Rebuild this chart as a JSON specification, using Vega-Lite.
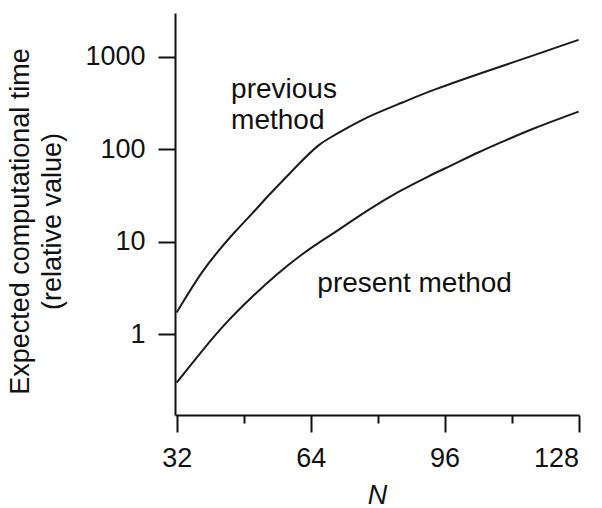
{
  "$schema": "https://vega.github.io/schema/vega-lite/v6.json",
  "width": 404,
  "height": 402,
  "autosize": "none",
  "padding": {"left": 175, "top": 13, "right": 23, "bottom": 93},
  "background": "white",
  "config": {
    "view": {"stroke": null},
    "font": "Liberation Sans",
    "axis": {
      "grid": false,
      "domainColor": "#111",
      "tickColor": "#111",
      "labelColor": "#111",
      "titleColor": "#111",
      "domainWidth": 2,
      "tickWidth": 2,
      "labelFont": "Liberation Sans",
      "titleFont": "Liberation Sans",
      "labelFontSize": 27,
      "titleFontSize": 27,
      "titleFontWeight": "normal"
    }
  },
  "datasets": {
    "curves": [
      {"method": "previous", "N": 32, "time": 1.72},
      {"method": "previous", "N": 38, "time": 4.8},
      {"method": "previous", "N": 42, "time": 8.0},
      {"method": "previous", "N": 46, "time": 13},
      {"method": "previous", "N": 50, "time": 20},
      {"method": "previous", "N": 54, "time": 32},
      {"method": "previous", "N": 58, "time": 49},
      {"method": "previous", "N": 62, "time": 76},
      {"method": "previous", "N": 66, "time": 113},
      {"method": "previous", "N": 68, "time": 128},
      {"method": "previous", "N": 72, "time": 163},
      {"method": "previous", "N": 78, "time": 230},
      {"method": "previous", "N": 86, "time": 320},
      {"method": "previous", "N": 92.5, "time": 426},
      {"method": "previous", "N": 104.5, "time": 662},
      {"method": "previous", "N": 116.4, "time": 1000},
      {"method": "previous", "N": 128, "time": 1520},
      {"method": "present", "N": 32, "time": 0.3},
      {"method": "present", "N": 38, "time": 0.66},
      {"method": "present", "N": 44, "time": 1.38},
      {"method": "present", "N": 50, "time": 2.55},
      {"method": "present", "N": 56, "time": 4.5},
      {"method": "present", "N": 62, "time": 7.4},
      {"method": "present", "N": 66, "time": 9.8},
      {"method": "present", "N": 70, "time": 12.8},
      {"method": "present", "N": 78, "time": 22.5},
      {"method": "present", "N": 85, "time": 35},
      {"method": "present", "N": 92.5, "time": 52},
      {"method": "present", "N": 97.4, "time": 66},
      {"method": "present", "N": 104.5, "time": 95},
      {"method": "present", "N": 109.4, "time": 118},
      {"method": "present", "N": 116.4, "time": 163},
      {"method": "present", "N": 128, "time": 255}
    ],
    "labels": [
      {"text": "previous", "N": 45.0, "time": 355},
      {"text": "method", "N": 45.0, "time": 165},
      {"text": "present method", "N": 65.6, "time": 2.89}
    ]
  },
  "layer": [
    {
      "data": {"name": "curves"},
      "mark": {"type": "line", "interpolate": "basis", "color": "#1a1a1a", "strokeWidth": 2},
      "encoding": {
        "x": {
          "field": "N", "type": "quantitative",
          "scale": {"domain": [31.6, 128.1], "nice": false, "zero": false},
          "axis": {
            "orient": "bottom",
            "values": [32, 64, 96, 128],
            "tickSize": 17,
            "labelPadding": 13,
            "title": "N",
            "titleFontStyle": "italic",
            "titleBaseline": "top",
            "titleY": 67
          }
        },
        "y": {
          "field": "time", "type": "quantitative",
          "scale": {"type": "log", "domain": [0.134, 2966], "nice": false},
          "axis": {
            "orient": "left",
            "values": [1, 10, 100, 1000],
            "format": "d",
            "tickSize": 17,
            "labelPadding": 13,
            "title": ["Expected computational time", "(relative value)"],
            "titleAngle": -90,
            "titleAlign": "center",
            "titleBaseline": "bottom",
            "titleLineHeight": 32,
            "titleX": -141,
            "titleY": 208
          }
        },
        "detail": {"field": "method"}
      }
    },
    {
      "data": {"name": "labels"},
      "mark": {"type": "text", "align": "left", "baseline": "alphabetic", "fontSize": 28, "font": "Liberation Sans", "color": "#111"},
      "encoding": {
        "x": {
          "field": "N", "type": "quantitative",
          "scale": {"domain": [31.6, 128.1], "nice": false, "zero": false},
          "axis": {
            "orient": "bottom",
            "values": [48, 80, 112],
            "tickSize": 8,
            "labels": false,
            "domain": false,
            "title": null
          }
        },
        "y": {
          "field": "time", "type": "quantitative",
          "scale": {"type": "log", "domain": [0.134, 2966], "nice": false}
        },
        "text": {"field": "text"}
      }
    }
  ],
  "resolve": {"axis": {"x": "independent"}}
}
